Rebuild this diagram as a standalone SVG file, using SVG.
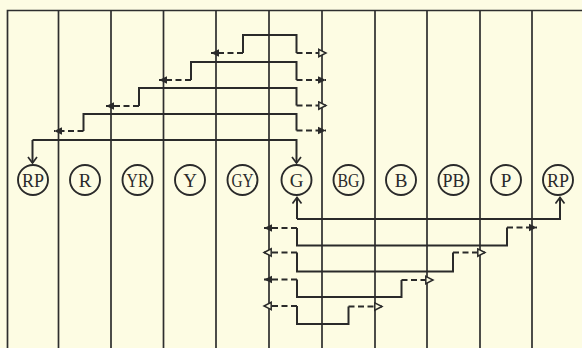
<svg xmlns="http://www.w3.org/2000/svg" width="582" height="348" viewBox="0 0 582 348">
<style>
.grid{stroke:#2e2e2e;stroke-width:1.7;fill:none}
.s{stroke:#2a2a2a;stroke-width:2;fill:none}
.d{stroke:#2a2a2a;stroke-width:1.8;fill:none;stroke-dasharray:6 3.5}
.node circle{fill:none;stroke:#2a2a2a;stroke-width:1.9}
.node text{font-family:"Liberation Serif","DejaVu Serif",serif;font-size:19px;fill:#2a2a2a;text-anchor:middle}
</style>
<defs>
<marker id="af" markerUnits="userSpaceOnUse" markerWidth="12" markerHeight="12" refX="8" refY="5" orient="auto"><path d="M0,1.3 L8,5 L0,8.7 Z" fill="#2a2a2a"/></marker>
<marker id="ao" markerUnits="userSpaceOnUse" markerWidth="12" markerHeight="12" refX="8" refY="5" orient="auto"><path d="M0.8,1.3 L8,5 L0.8,8.7 Z" fill="#fdfce3" stroke="#2a2a2a" stroke-width="1.5"/></marker>
<marker id="av" markerUnits="userSpaceOnUse" markerWidth="12" markerHeight="12" refX="7" refY="5" orient="auto"><path d="M1,0.5 L7,5 L1,9.5" fill="none" stroke="#2a2a2a" stroke-width="1.7"/></marker>
</defs>
<rect width="582" height="348" fill="#fdfce3"/>
<g id="grid">
<path class="grid" d="M7.5,348 V10.5 H582"/>
<path class="grid" d="M58.5,10.5 V348 M111,10.5 V348 M163.5,10.5 V348 M216,10.5 V348 M269,10.5 V348 M322,10.5 V348 M375,10.5 V348 M427,10.5 V348 M480,10.5 V348 M532,10.5 V348"/>
</g>
<g id="connectors">
<path class="s" d="M243,53 V35 H296.5 V53"/>
<path class="d" d="M243,53 H211" marker-end="url(#af)"/>
<path class="d" d="M296.5,53 H326" marker-end="url(#ao)"/>
<path class="s" d="M191,80 V62 H296.5 V80"/>
<path class="d" d="M191,80 H159" marker-end="url(#af)"/>
<path class="d" d="M296.5,80 H326" marker-end="url(#af)"/>
<path class="s" d="M139,106 V88 H296.5 V105.5"/>
<path class="d" d="M139,106 H106" marker-end="url(#af)"/>
<path class="d" d="M296.5,105.5 H326" marker-end="url(#ao)"/>
<path class="s" d="M83.5,131 V114 H296.5 V130.5"/>
<path class="d" d="M83.5,131 H54" marker-end="url(#af)"/>
<path class="d" d="M296.5,130.5 H326" marker-end="url(#af)"/>
<path class="s" d="M32.5,140 H296.5 V163" marker-end="url(#av)"/>
<path class="s" d="M32.5,140 V163" marker-end="url(#av)"/>
<path class="s" d="M297,219 H560 V197.5" marker-end="url(#av)"/>
<path class="s" d="M297,219 V197.5" marker-end="url(#av)"/>
<path class="s" d="M297,228 V245.5 H507 V227.5"/>
<path class="d" d="M297,228 H264" marker-end="url(#af)"/>
<path class="d" d="M507,227.5 H537" marker-end="url(#af)"/>
<path class="s" d="M297,252.5 V271.5 H453 V252.5"/>
<path class="d" d="M297,252.5 H264" marker-end="url(#ao)"/>
<path class="d" d="M453,252.5 H485" marker-end="url(#ao)"/>
<path class="s" d="M297,279.5 V297 H401.5 V280"/>
<path class="d" d="M297,279.5 H264" marker-end="url(#af)"/>
<path class="d" d="M401.5,280 H433" marker-end="url(#ao)"/>
<path class="s" d="M297,306 V324 H348.5 V306.5"/>
<path class="d" d="M297,306 H264" marker-end="url(#ao)"/>
<path class="d" d="M348.5,306.5 H382" marker-end="url(#ao)"/>
</g>
<g id="node-RP1" class="node"><circle cx="33" cy="180" r="15"/><text x="33" y="187" textLength="22" lengthAdjust="spacingAndGlyphs">RP</text></g>
<g id="node-R" class="node"><circle cx="85" cy="180" r="15"/><text x="85" y="187">R</text></g>
<g id="node-YR" class="node"><circle cx="137.5" cy="180" r="15"/><text x="137.5" y="187" textLength="22" lengthAdjust="spacingAndGlyphs">YR</text></g>
<g id="node-Y" class="node"><circle cx="190" cy="180" r="15"/><text x="190" y="187">Y</text></g>
<g id="node-GY" class="node"><circle cx="242.5" cy="180" r="15"/><text x="242.5" y="187" textLength="22" lengthAdjust="spacingAndGlyphs">GY</text></g>
<g id="node-G" class="node"><circle cx="296.5" cy="180" r="15"/><text x="296.5" y="187">G</text></g>
<g id="node-BG" class="node"><circle cx="348.5" cy="180" r="15"/><text x="348.5" y="187" textLength="22" lengthAdjust="spacingAndGlyphs">BG</text></g>
<g id="node-B" class="node"><circle cx="401" cy="180" r="15"/><text x="401" y="187">B</text></g>
<g id="node-PB" class="node"><circle cx="453.5" cy="180" r="15"/><text x="453.5" y="187" textLength="22" lengthAdjust="spacingAndGlyphs">PB</text></g>
<g id="node-P" class="node"><circle cx="506" cy="180" r="15"/><text x="506" y="187">P</text></g>
<g id="node-RP2" class="node"><circle cx="558" cy="180" r="15"/><text x="558" y="187" textLength="22" lengthAdjust="spacingAndGlyphs">RP</text></g>
</svg>
